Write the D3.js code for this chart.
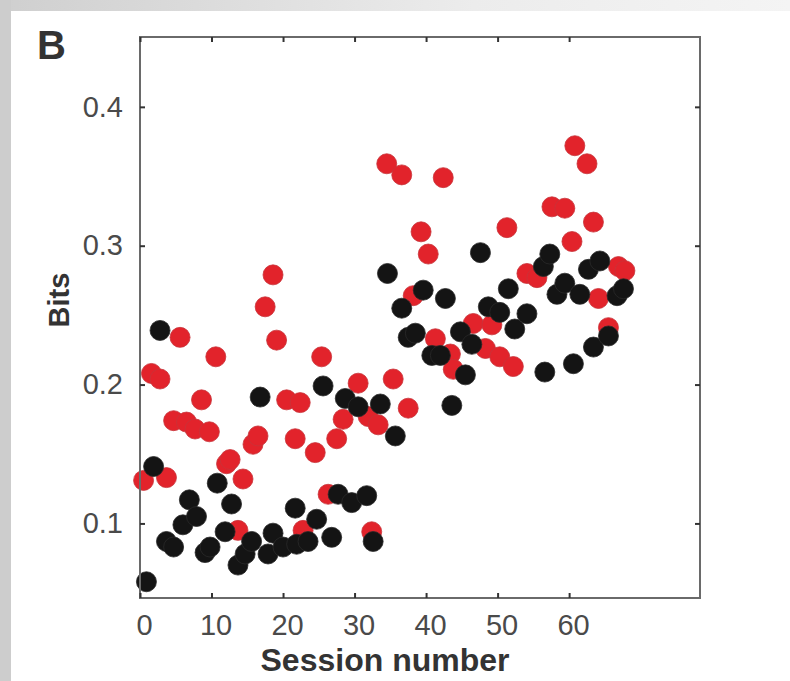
<!DOCTYPE html>
<html>
<head>
<meta charset="utf-8">
<script src="https://cdn.jsdelivr.net/npm/d3@7"></script>
<style>
  html, body { margin: 0; padding: 0; background: #ffffff; }
  svg { display: block; }
</style>
</head>
<body>
<script>
// ---- data ----
const xTicks = [0, 10, 20, 30, 40, 50, 60];
const yTicks = [0.1, 0.2, 0.3, 0.4];

const blackSession = [0.9, 1.9, 2.8, 3.7, 4.7, 6.0, 6.9, 7.9, 9.1, 9.8, 10.8, 11.9, 12.8, 13.7, 14.7, 15.6, 16.8, 17.9, 18.6, 20.0, 21.7, 21.9, 23.5, 24.7, 25.6, 26.8, 27.7, 28.7, 29.6, 30.5, 31.7, 32.6, 33.6, 34.6, 35.7, 36.6, 37.5, 38.5, 39.6, 40.8, 42.0, 42.7, 43.6, 44.8, 45.5, 46.4, 47.6, 48.7, 50.3, 51.5, 52.4, 54.1, 56.4, 56.6, 57.3, 58.3, 59.4, 60.6, 61.5, 62.7, 63.4, 64.3, 65.5, 66.7, 67.6];
const blackBits = [0.058, 0.141, 0.239, 0.087, 0.083, 0.099, 0.117, 0.105, 0.079, 0.083, 0.129, 0.094, 0.114, 0.070, 0.078, 0.087, 0.191, 0.078, 0.093, 0.083, 0.111, 0.085, 0.087, 0.103, 0.199, 0.090, 0.121, 0.190, 0.115, 0.184, 0.120, 0.087, 0.186, 0.280, 0.163, 0.255, 0.234, 0.237, 0.268, 0.221, 0.221, 0.262, 0.185, 0.238, 0.207, 0.229, 0.295, 0.256, 0.252, 0.269, 0.240, 0.251, 0.285, 0.209, 0.294, 0.265, 0.273, 0.215, 0.265, 0.283, 0.227, 0.289, 0.235, 0.264, 0.269];

const redSession = [0.5, 1.6, 2.8, 3.7, 4.7, 5.6, 6.5, 7.7, 8.6, 9.7, 10.6, 12.1, 12.6, 13.7, 14.4, 15.8, 16.5, 17.5, 18.6, 19.1, 20.5, 21.7, 22.4, 22.8, 24.5, 25.4, 26.3, 27.5, 28.4, 30.5, 31.9, 32.4, 33.3, 34.5, 35.4, 36.6, 37.5, 38.2, 39.3, 40.3, 41.3, 42.4, 43.4, 43.8, 46.6, 48.3, 49.2, 50.3, 51.3, 52.2, 54.1, 55.5, 57.6, 59.4, 60.4, 60.8, 62.5, 63.4, 64.1, 65.5, 66.9, 67.8];
const redBits = [0.131, 0.208, 0.204, 0.133, 0.174, 0.234, 0.173, 0.168, 0.189, 0.166, 0.220, 0.143, 0.146, 0.095, 0.132, 0.157, 0.163, 0.256, 0.279, 0.232, 0.189, 0.161, 0.187, 0.095, 0.151, 0.220, 0.121, 0.161, 0.175, 0.201, 0.177, 0.094, 0.171, 0.359, 0.204, 0.351, 0.183, 0.264, 0.310, 0.294, 0.233, 0.349, 0.222, 0.211, 0.244, 0.226, 0.243, 0.220, 0.313, 0.213, 0.280, 0.277, 0.328, 0.327, 0.303, 0.372, 0.359, 0.317, 0.262, 0.241, 0.285, 0.282];

const panelLabel = "B";
const xLabel = "Session number";
const yLabel = "Bits";

// ---- drawing ----
const W = 790, H = 681;
const svg = d3.select("body").append("svg").attr("width", W).attr("height", H);

// photo-like grey frame
const defs = svg.append("defs");
const gTop = defs.append("linearGradient").attr("id", "gTop").attr("x1", "0").attr("x2", "1");
gTop.append("stop").attr("offset", "0").attr("stop-color", "#cfcfcf");
gTop.append("stop").attr("offset", "0.6").attr("stop-color", "#ececec");
gTop.append("stop").attr("offset", "1").attr("stop-color", "#f4f4f4");

svg.append("rect").attr("x", 0).attr("y", 0).attr("width", W).attr("height", H).attr("fill", "#ffffff");
svg.append("rect").attr("x", 0).attr("y", 0).attr("width", W).attr("height", 11).attr("fill", "url(#gTop)");
svg.append("rect").attr("x", 0).attr("y", 0).attr("width", 11).attr("height", H).attr("fill", "#cdcdcd");

const pLeft = 140, pRight = 700, pTop = 37, pBottom = 598;
const x = d3.scaleLinear().domain([0, 78.3]).range([pLeft, pRight]);
const y = d3.scaleLinear().domain([0.0463, 0.4503]).range([pBottom, pTop]);

const axisColor = "#6a6a6a";
const tickTextColor = "#4a4a4a";
const font = "'Liberation Sans', Arial, Helvetica, sans-serif";

// dots: red first, black on top
const red = redSession.map((s, i) => ({ s, b: redBits[i] }));
const black = blackSession.map((s, i) => ({ s, b: blackBits[i] }));
svg.append("g").selectAll("circle").data(red).join("circle")
  .attr("cx", d => x(d.s)).attr("cy", d => y(d.b)).attr("r", 10)
  .attr("fill", "#e2232b").attr("stroke", "#c8343a").attr("stroke-width", 0.8);
svg.append("g").selectAll("circle").data(black).join("circle")
  .attr("cx", d => x(d.s)).attr("cy", d => y(d.b)).attr("r", 10)
  .attr("fill", "#141414").attr("stroke", "#2a2a2a").attr("stroke-width", 0.8);

// box
svg.append("rect").attr("x", pLeft).attr("y", pTop).attr("width", pRight - pLeft).attr("height", pBottom - pTop)
  .attr("fill", "none").attr("stroke", axisColor).attr("stroke-width", 2);

function styleAxis(g) {
  g.select(".domain").remove();
  g.selectAll(".tick line").attr("stroke", "#333").attr("stroke-width", 2);
  g.selectAll(".tick text").attr("fill", tickTextColor).attr("font-family", font).attr("font-size", 29);
}

svg.append("g").attr("transform", `translate(0,${pBottom})`)
  .call(d3.axisBottom(x).tickValues(xTicks).tickSize(-5).tickSizeOuter(0).tickPadding(16).tickFormat(d3.format("d")))
  .call(styleAxis)
  .selectAll(".tick text").attr("dx", 4);
svg.append("g").attr("transform", `translate(0,${pTop})`)
  .call(d3.axisTop(x).tickValues(xTicks).tickSize(-5).tickSizeOuter(0).tickFormat(""))
  .call(styleAxis);
svg.append("g").attr("transform", `translate(${pLeft},0)`)
  .call(d3.axisLeft(y).tickValues(yTicks).tickSize(-5).tickSizeOuter(0).tickPadding(17).tickFormat(d3.format(".1f")))
  .call(styleAxis);
svg.append("g").attr("transform", `translate(${pRight},0)`)
  .call(d3.axisRight(y).tickValues(yTicks).tickSize(-5).tickSizeOuter(0).tickFormat(""))
  .call(styleAxis);

// labels
svg.append("text").attr("x", 385).attr("y", 671).attr("text-anchor", "middle")
  .attr("font-family", font).attr("font-weight", "bold").attr("font-size", 32).attr("fill", "#333")
  .text(xLabel);
svg.append("text").attr("transform", `translate(69,${300}) rotate(-90)`).attr("text-anchor", "middle")
  .attr("font-family", font).attr("font-weight", "bold").attr("font-size", 29).attr("fill", "#333")
  .text(yLabel);
svg.append("text").attr("x", 37).attr("y", 59)
  .attr("font-family", font).attr("font-weight", "bold").attr("font-size", 40).attr("fill", "#333")
  .text(panelLabel);
</script>
</body>
</html>
